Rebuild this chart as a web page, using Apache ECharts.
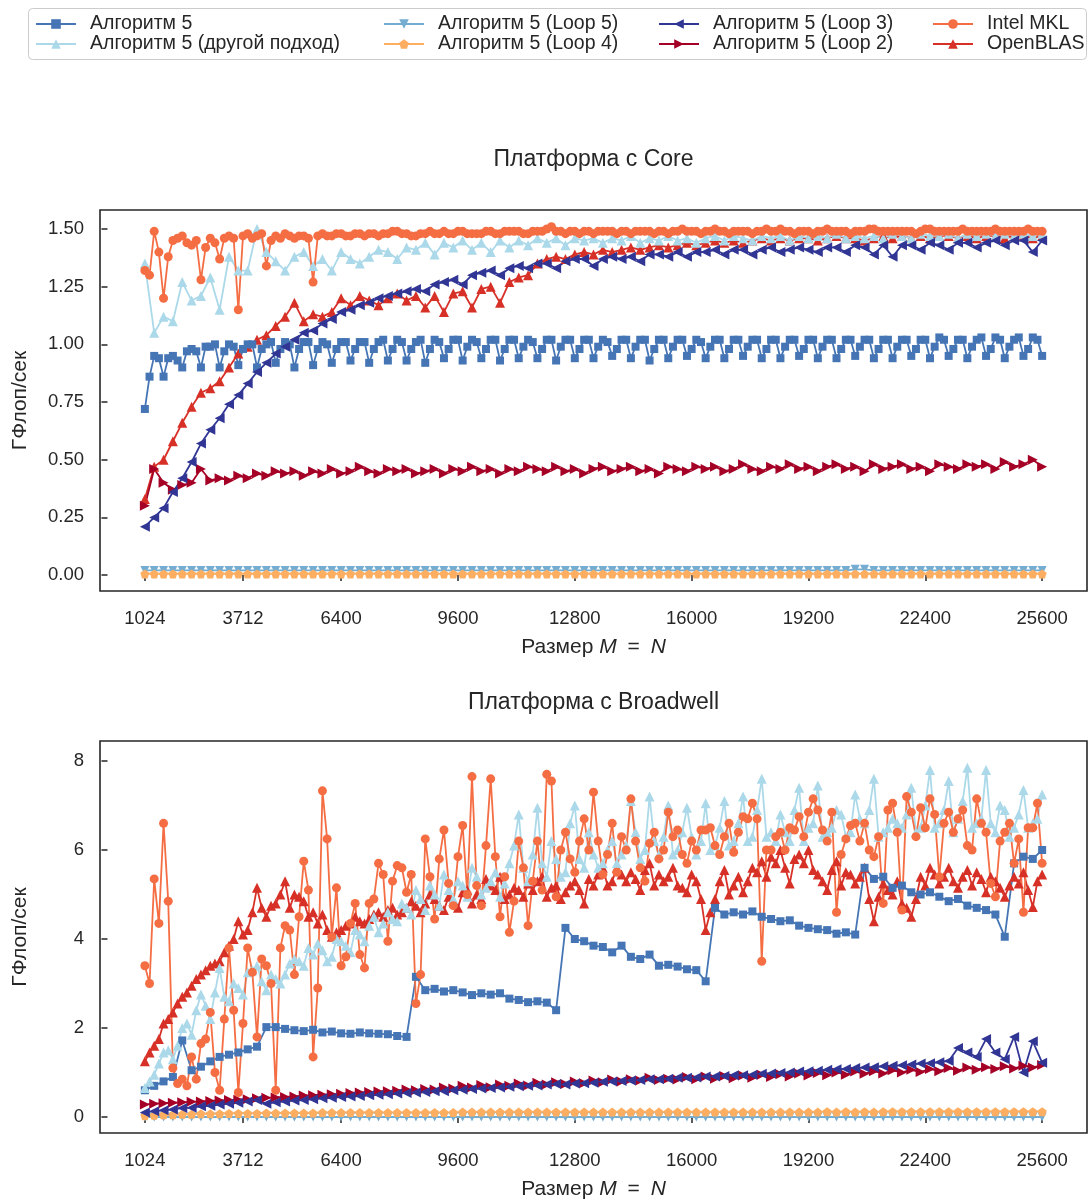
<!DOCTYPE html>
<html>
<head>
<meta charset="utf-8">
<script src="https://cdn.jsdelivr.net/npm/echarts@6/dist/echarts.min.js"></script>
<style>
html, body { margin: 0; padding: 0; background: #fff; }
#chart { width: 1091px; height: 1202px; }
</style>
</head>
<body>
<div id="chart"></div>
<script>
// размеры задачи M = N
const sizes = [];
for (let n = 1024; n <= 25600; n += 256) sizes.push(n);
const sizesFine = [];
for (let n = 1024; n <= 25600; n += 128) sizesFine.push(n);

const xTicks = [1024, 3712, 6400, 9600, 12800, 16000, 19200, 22400, 25600];
const coreTicks = [0, 0.25, 0.5, 0.75, 1.0, 1.25, 1.5];
const bdwTicks = [0, 2, 4, 6, 8];

// ---- Платформа с Core ----
const coreAlg5 = [ // шаг 128
  0.72,0.86,0.95,0.94, 0.86,0.94,0.95,0.93, 0.90,0.97,0.98,0.97, 0.90,0.99,0.99,1.00,
  0.90,0.97,1.00,0.99, 0.91,0.98,1.00,1.00, 0.90,0.98,1.00,1.01, 0.92,0.98,1.01,1.00,
  0.90,0.98,1.01,1.01, 0.91,0.98,1.01,1.00, 0.92,0.98,1.01,1.01, 0.93,0.98,1.01,1.01,
  0.92,0.98,1.01,1.02, 0.93,0.98,1.02,1.01, 0.93,0.98,1.01,1.02, 0.92,0.98,1.02,1.01,
  0.94,0.98,1.02,1.02, 0.93,0.99,1.02,1.01, 0.94,0.98,1.02,1.02, 0.93,0.98,1.02,1.02,
  0.94,0.99,1.02,1.01, 0.94,0.98,1.02,1.02, 0.93,0.99,1.02,1.02, 0.94,0.98,1.02,1.02,
  0.94,0.99,1.02,1.01, 0.95,0.98,1.02,1.02, 0.94,0.99,1.02,1.02, 0.93,0.98,1.02,1.02,
  0.94,0.99,1.02,1.02, 0.95,0.98,1.02,1.01, 0.94,0.99,1.02,1.02, 0.94,0.98,1.02,1.02,
  0.95,0.99,1.02,1.02, 0.94,0.98,1.02,1.02, 0.94,0.99,1.02,1.02, 0.95,0.98,1.02,1.02,
  0.94,0.99,1.02,1.02, 0.94,0.98,1.02,1.02, 0.95,0.99,1.02,1.02, 0.94,0.98,1.02,1.02,
  0.94,0.99,1.02,1.02, 0.95,0.98,1.02,1.02, 0.94,0.99,1.03,1.02, 0.95,0.98,1.02,1.02,
  0.94,0.99,1.02,1.03, 0.95,0.98,1.03,1.02, 0.94,0.99,1.02,1.03, 0.95,0.98,1.03,1.02,
  0.95
];
const coreOther = [
  1.35,1.05,1.12,1.10,1.27,1.19,1.21,1.29,1.15,1.38,
  1.32,1.32,1.50,1.40,1.36,1.32,1.38,1.40,1.34,1.37,
  1.32,1.40,1.37,1.35,1.38,1.41,1.40,1.37,1.42,1.41,
  1.44,1.39,1.44,1.42,1.45,1.41,1.44,1.40,1.45,1.42,
  1.45,1.43,1.46,1.44,1.46,1.43,1.46,1.45,1.46,1.44,
  1.46,1.45,1.47,1.44,1.46,1.45,1.47,1.45,1.46,1.44,
  1.46,1.47,1.45,1.47,1.46,1.45,1.47,1.46,1.47,1.45,
  1.47,1.46,1.47,1.46,1.48,1.46,1.47,1.46,1.47,1.46,
  1.48,1.47,1.46,1.48,1.47,1.47,1.48,1.46,1.48,1.47,
  1.48,1.47,1.48,1.47,1.48,1.47,1.48
];
const coreLoop5 = [
  0.02,0.02,0.02,0.02,0.02,0.02,0.02,0.02,0.02,0.02,
  0.02,0.02,0.02,0.02,0.02,0.02,0.02,0.02,0.02,0.02,
  0.02,0.02,0.02,0.02,0.02,0.02,0.02,0.02,0.02,0.02,
  0.02,0.02,0.02,0.02,0.02,0.02,0.02,0.02,0.02,0.02,
  0.02,0.02,0.02,0.02,0.02,0.02,0.02,0.02,0.02,0.02,
  0.02,0.02,0.02,0.02,0.02,0.02,0.02,0.02,0.02,0.02,
  0.02,0.02,0.02,0.02,0.02,0.02,0.02,0.02,0.02,0.02,
  0.02,0.02,0.02,0.02,0.02,0.02,0.025,0.025,0.02,0.02,
  0.02,0.02,0.02,0.02,0.02,0.02,0.02,0.02,0.02,0.02,
  0.02,0.02,0.02,0.02,0.02,0.02,0.02
];
const coreLoop4 = [
  0.005,0.005,0.005,0.005,0.005,0.005,0.005,0.005,0.005,0.005,
  0.005,0.005,0.005,0.005,0.005,0.005,0.005,0.005,0.005,0.005,
  0.005,0.005,0.005,0.005,0.005,0.005,0.005,0.005,0.005,0.005,
  0.005,0.005,0.005,0.005,0.005,0.005,0.005,0.005,0.005,0.005,
  0.005,0.005,0.005,0.005,0.005,0.005,0.005,0.005,0.005,0.005,
  0.005,0.005,0.005,0.005,0.005,0.005,0.005,0.005,0.005,0.005,
  0.005,0.005,0.005,0.005,0.005,0.005,0.005,0.005,0.005,0.005,
  0.005,0.005,0.005,0.005,0.005,0.005,0.005,0.005,0.005,0.005,
  0.005,0.005,0.005,0.005,0.005,0.005,0.005,0.005,0.005,0.005,
  0.005,0.005,0.005,0.005,0.005,0.005,0.005
];
const coreLoop3 = [
  0.21,0.25,0.29,0.36,0.42,0.49,0.57,0.63,0.68,0.74,
  0.78,0.83,0.88,0.92,0.96,0.99,1.02,1.05,1.06,1.09,
  1.11,1.14,1.15,1.17,1.18,1.20,1.21,1.22,1.23,1.24,
  1.23,1.26,1.27,1.28,1.26,1.30,1.31,1.32,1.30,1.33,
  1.34,1.33,1.35,1.35,1.33,1.36,1.37,1.37,1.34,1.37,
  1.38,1.37,1.38,1.36,1.39,1.39,1.38,1.40,1.38,1.40,
  1.40,1.41,1.39,1.41,1.41,1.39,1.41,1.42,1.40,1.41,
  1.42,1.41,1.40,1.42,1.42,1.40,1.43,1.42,1.39,1.43,
  1.38,1.43,1.43,1.41,1.44,1.43,1.41,1.44,1.44,1.42,
  1.44,1.45,1.43,1.45,1.45,1.40,1.45
];
const coreLoop2 = [
  0.30,0.46,0.40,0.37,0.39,0.40,0.46,0.41,0.42,0.41,
  0.43,0.42,0.44,0.43,0.45,0.44,0.45,0.43,0.45,0.44,
  0.46,0.44,0.45,0.47,0.45,0.44,0.46,0.45,0.46,0.44,
  0.45,0.46,0.44,0.46,0.45,0.47,0.45,0.46,0.44,0.46,
  0.45,0.47,0.46,0.45,0.47,0.45,0.46,0.44,0.46,0.47,
  0.45,0.46,0.47,0.45,0.46,0.44,0.47,0.46,0.45,0.47,
  0.46,0.47,0.45,0.46,0.48,0.46,0.45,0.47,0.46,0.48,
  0.46,0.47,0.45,0.47,0.48,0.46,0.47,0.45,0.48,0.46,
  0.47,0.48,0.46,0.47,0.45,0.48,0.47,0.46,0.48,0.47,
  0.48,0.46,0.49,0.47,0.48,0.50,0.47
];
const coreMkl = [ // шаг 128
  1.32,1.30,1.49,1.40,1.20,1.38,1.45,1.46,1.47,1.44,
  1.43,1.45,1.28,1.42,1.46,1.44,1.37,1.46,1.47,1.46,
  1.15,1.47,1.48,1.46,1.47,1.48,1.34,1.45,1.47,1.46,
  1.48,1.47,1.46,1.47,1.47,1.46,1.27,1.47,1.48,1.47,
  1.47,1.48,1.48,1.47,1.47,1.48,1.48,1.47,1.48,1.48,
  1.47,1.48,1.48,1.49,1.49,1.48,1.48,1.47,1.47,1.48,
  1.48,1.49,1.48,1.48,1.49,1.48,1.48,1.49,1.49,1.48,
  1.48,1.48,1.48,1.49,1.49,1.48,1.48,1.49,1.49,1.49,
  1.49,1.48,1.48,1.49,1.49,1.49,1.50,1.51,1.49,1.49,
  1.48,1.49,1.49,1.48,1.49,1.49,1.48,1.49,1.49,1.49,
  1.49,1.48,1.49,1.49,1.48,1.49,1.49,1.49,1.49,1.48,
  1.49,1.49,1.48,1.49,1.49,1.50,1.49,1.49,1.49,1.48,
  1.49,1.49,1.50,1.49,1.49,1.48,1.49,1.49,1.49,1.49,
  1.48,1.49,1.49,1.50,1.49,1.49,1.50,1.49,1.49,1.48,
  1.49,1.49,1.49,1.48,1.49,1.49,1.50,1.49,1.49,1.49,
  1.49,1.48,1.49,1.49,1.49,1.50,1.50,1.49,1.49,1.49,
  1.49,1.49,1.49,1.49,1.49,1.48,1.49,1.50,1.50,1.49,
  1.49,1.49,1.49,1.49,1.49,1.50,1.49,1.49,1.49,1.49,
  1.49,1.49,1.50,1.49,1.49,1.49,1.49,1.49,1.49,1.50,
  1.49,1.49,1.49
];
const coreBlas = [
  0.33,0.47,0.50,0.58,0.66,0.73,0.79,0.81,0.84,0.90,
  0.96,0.99,1.02,1.04,1.08,1.12,1.18,1.10,1.13,1.12,
  1.14,1.20,1.17,1.21,1.19,1.17,1.20,1.22,1.19,1.21,
  1.16,1.21,1.14,1.22,1.23,1.16,1.24,1.25,1.18,1.27,
  1.29,1.30,1.35,1.37,1.38,1.37,1.39,1.40,1.39,1.41,
  1.40,1.41,1.42,1.41,1.42,1.43,1.42,1.43,1.44,1.43,
  1.44,1.45,1.44,1.45,1.44,1.45,1.46,1.45,1.46,1.45,
  1.46,1.46,1.45,1.46,1.47,1.46,1.46,1.45,1.46,1.47,
  1.46,1.47,1.46,1.47,1.46,1.47,1.47,1.46,1.47,1.46,
  1.47,1.47,1.46,1.47,1.47,1.46,1.47
];

// ---- Платформа с Broadwell ----
const bdwAlg5 = [
  0.60,0.70,0.80,0.90,1.72,1.05,1.13,1.25,1.35,1.40,
  1.45,1.52,1.58,2.02,2.02,1.98,1.95,1.93,1.96,1.90,
  1.92,1.88,1.87,1.90,1.88,1.87,1.86,1.82,1.80,3.15,
  2.85,2.88,2.82,2.85,2.80,2.74,2.78,2.75,2.78,2.66,
  2.63,2.58,2.60,2.57,2.40,4.25,4.00,3.95,3.85,3.82,
  3.70,3.85,3.60,3.55,3.65,3.40,3.42,3.38,3.32,3.30,
  3.05,4.70,4.55,4.60,4.55,4.62,4.50,4.45,4.40,4.42,
  4.30,4.25,4.22,4.20,4.12,4.15,4.10,5.60,5.35,5.40,
  5.15,5.20,5.05,5.00,5.05,4.95,4.85,4.90,4.75,4.70,
  4.65,4.55,4.05,5.70,5.85,5.80,6.00
];
const bdwOther = [ // шаг 128
  0.65,0.80,0.95,1.20,1.45,1.50,1.30,1.60,2.00,2.10,
  1.85,2.40,2.75,2.50,2.20,2.80,3.35,2.70,2.60,3.00,
  2.90,2.75,3.25,3.30,3.40,3.05,2.85,3.20,3.10,3.00,
  3.20,3.45,3.55,3.50,3.40,3.80,3.65,3.90,3.75,3.50,
  3.60,4.00,3.95,3.85,3.70,4.20,4.10,3.95,4.30,4.50,
  4.15,4.35,4.60,4.45,4.40,4.80,4.70,4.55,5.10,4.90,
  4.65,5.20,5.00,4.75,5.45,5.10,4.90,5.30,5.20,4.95,
  5.60,5.40,5.00,5.15,5.30,5.50,4.95,5.25,5.70,6.10,
  6.80,5.60,5.30,5.90,6.95,5.70,5.40,6.20,5.80,5.40,
  5.50,6.60,7.00,5.80,5.60,6.40,5.90,5.60,5.70,6.00,
  6.20,5.70,5.90,6.10,7.10,6.40,5.80,6.00,7.20,6.20,
  5.90,6.30,7.00,5.90,6.00,6.40,6.95,6.30,5.90,6.20,
  7.05,6.00,6.10,6.50,7.10,6.10,6.20,6.60,7.20,6.20,
  6.30,6.90,7.60,6.30,6.40,6.20,6.80,6.40,6.20,6.90,
  7.40,6.20,6.50,6.60,7.45,6.30,6.40,6.50,6.90,6.80,
  6.30,6.40,7.25,6.70,6.60,6.90,7.60,6.30,6.40,6.50,
  6.70,6.60,6.50,6.80,7.40,6.40,6.50,7.00,7.80,6.50,
  6.60,6.90,7.55,6.40,6.70,7.10,7.85,6.50,6.60,6.70,
  7.80,6.60,6.40,7.00,6.90,6.30,6.50,6.80,7.35,6.50,
  6.60,6.70,7.25
];
const bdwLoop5 = [
  0.00,0.00,0.00,0.00,0.00,0.00,0.00,0.00,0.00,0.00,
  0.00,0.00,0.00,0.00,0.00,0.00,0.00,0.00,0.00,0.00,
  0.00,0.00,0.00,0.00,0.00,0.00,0.00,0.00,0.00,0.00,
  0.00,0.00,0.00,0.00,0.00,0.00,0.00,0.00,0.00,0.00,
  0.00,0.00,0.00,0.00,0.00,0.00,0.00,0.00,0.00,0.00,
  0.00,0.00,0.00,0.00,0.00,0.00,0.00,0.00,0.00,0.00,
  0.00,0.00,0.00,0.00,0.00,0.00,0.00,0.00,0.00,0.00,
  0.00,0.00,0.00,0.00,0.00,0.00,0.00,0.00,0.00,0.00,
  0.00,0.00,0.00,0.00,0.00,0.00,0.00,0.00,0.00,0.00,
  0.00,0.00,0.00,0.00,0.00,0.00,0.00
];
const bdwLoop4 = [
  0.03,0.04,0.05,0.05,0.06,0.06,0.07,0.07,0.07,0.08,
  0.08,0.08,0.08,0.09,0.09,0.09,0.09,0.09,0.09,0.10,
  0.10,0.10,0.10,0.10,0.10,0.10,0.10,0.10,0.10,0.10,
  0.10,0.10,0.10,0.10,0.11,0.11,0.11,0.11,0.11,0.11,
  0.11,0.11,0.11,0.11,0.11,0.11,0.11,0.11,0.11,0.11,
  0.11,0.11,0.11,0.11,0.11,0.11,0.11,0.11,0.11,0.11,
  0.11,0.11,0.11,0.11,0.11,0.11,0.11,0.11,0.11,0.11,
  0.11,0.11,0.11,0.12,0.11,0.12,0.11,0.12,0.11,0.12,
  0.12,0.12,0.12,0.12,0.12,0.12,0.12,0.12,0.12,0.12,
  0.12,0.12,0.12,0.12,0.12,0.12,0.12
];
const bdwLoop3 = [
  0.10,0.13,0.15,0.17,0.20,0.21,0.24,0.25,0.28,0.30,
  0.32,0.35,0.38,0.30,0.33,0.35,0.37,0.38,0.40,0.42,
  0.43,0.45,0.46,0.47,0.49,0.50,0.51,0.53,0.54,0.55,
  0.56,0.58,0.58,0.60,0.61,0.63,0.64,0.65,0.66,0.68,
  0.69,0.70,0.71,0.73,0.74,0.73,0.75,0.76,0.77,0.79,
  0.80,0.81,0.82,0.83,0.85,0.85,0.86,0.88,0.88,0.89,
  0.91,0.91,0.92,0.94,0.94,0.95,0.97,0.98,0.99,1.00,
  1.02,1.03,1.04,1.06,1.07,1.08,1.10,1.11,1.12,1.14,
  1.15,1.16,1.18,1.20,1.21,1.23,1.26,1.55,1.45,1.35,
  1.75,1.45,1.30,1.80,1.00,1.70,1.22
];
const bdwLoop2 = [
  0.28,0.30,0.31,0.32,0.33,0.34,0.35,0.36,0.37,0.38,
  0.39,0.40,0.42,0.43,0.44,0.45,0.46,0.48,0.49,0.50,
  0.51,0.52,0.54,0.55,0.56,0.57,0.58,0.59,0.62,0.60,
  0.63,0.62,0.66,0.64,0.70,0.66,0.72,0.67,0.73,0.70,
  0.75,0.71,0.77,0.73,0.78,0.74,0.80,0.76,0.82,0.78,
  0.84,0.80,0.85,0.82,0.88,0.83,0.86,0.84,0.90,0.85,
  0.91,0.86,0.92,0.87,0.93,0.88,0.95,0.90,0.96,0.91,
  0.98,0.93,0.99,0.94,1.00,0.95,1.02,0.97,1.03,0.98,
  1.05,1.00,1.06,1.01,1.08,1.03,1.10,1.04,1.11,1.06,
  1.12,1.08,1.14,1.09,1.15,1.11,1.17
];
const bdwMkl = [ // шаг 128
  3.40,3.00,5.35,4.35,6.60,4.85,1.10,0.75,0.85,0.70,
  1.35,0.85,1.65,1.75,2.35,1.00,0.60,2.20,3.80,2.40,
  0.55,2.10,3.80,3.25,1.80,3.55,3.40,3.00,0.60,3.80,
  4.30,4.20,3.20,4.50,5.75,5.10,1.35,2.90,7.33,6.25,
  4.05,5.15,3.40,3.60,4.35,4.80,3.65,3.35,4.80,4.90,
  5.70,5.45,3.95,5.30,5.65,5.60,5.05,5.45,2.55,3.20,
  6.25,5.40,4.45,5.80,6.45,5.25,4.75,5.85,6.55,5.00,
  7.65,5.20,4.75,6.10,7.60,5.85,4.50,5.40,4.15,4.85,
  6.20,5.60,4.30,5.30,6.20,5.10,7.70,7.55,4.95,6.00,
  6.40,5.80,5.50,6.20,6.70,6.00,7.30,6.20,5.45,5.90,
  6.60,5.50,6.30,6.00,7.15,6.20,5.60,5.30,6.15,6.40,
  5.80,6.00,6.85,6.30,6.45,5.90,5.70,6.20,6.00,6.45,
  6.45,6.50,6.10,5.90,6.30,6.60,5.95,6.40,6.75,6.70,
  7.05,6.70,3.50,6.00,6.00,6.30,6.40,6.00,6.50,6.45,
  6.75,6.30,6.85,7.15,6.90,6.45,6.20,6.85,4.60,5.90,
  6.25,6.55,6.60,6.20,6.60,6.00,5.85,6.30,4.80,6.90,
  7.05,6.40,4.65,7.20,6.85,6.30,6.95,6.50,7.15,6.80,
  5.40,6.60,6.85,6.40,6.70,6.90,6.10,6.00,7.15,6.60,
  6.40,5.25,4.95,6.20,6.40,6.60,5.70,6.25,4.60,6.50,
  6.50,7.05,5.70
];
const bdwBlas = [ // шаг 128
  1.25,1.45,1.60,1.75,2.10,2.20,2.35,2.55,2.70,2.80,
  2.95,3.10,3.20,3.30,3.40,3.45,3.50,3.70,3.85,4.00,
  4.40,4.10,4.20,4.60,5.15,4.70,4.50,4.75,4.80,5.00,
  5.30,4.70,5.00,4.95,4.85,4.50,4.60,4.35,4.55,4.20,
  4.05,4.15,4.20,4.30,4.35,4.50,4.40,4.35,4.45,4.55,
  4.60,4.50,4.65,4.70,4.55,4.60,4.70,4.85,4.75,4.60,
  4.80,5.00,4.90,4.75,4.65,4.95,4.85,4.70,5.05,5.10,
  4.80,5.00,4.90,5.35,5.20,5.10,5.40,4.90,5.00,5.15,
  5.10,4.95,5.25,5.10,5.30,5.40,4.95,5.15,5.20,4.90,
  5.05,5.20,5.30,5.10,4.80,5.35,5.20,5.45,5.60,5.20,
  5.30,5.60,5.45,5.30,5.50,5.35,5.10,5.55,5.70,5.20,
  5.45,5.30,5.40,5.60,5.20,5.15,5.05,5.45,5.30,4.90,
  4.20,4.60,4.90,5.30,5.55,5.00,5.20,5.40,5.05,5.30,
  5.60,5.50,5.75,5.40,5.85,5.70,6.00,5.60,5.25,5.80,
  5.90,5.70,6.00,5.55,5.45,5.30,5.10,5.55,5.75,5.20,
  5.50,5.45,5.25,5.40,5.60,4.90,4.40,4.95,5.25,5.10,
  5.00,5.30,4.80,4.70,4.50,4.90,5.40,5.20,5.60,5.45,
  5.25,5.40,5.60,5.30,5.15,5.40,5.55,5.20,5.50,5.35,
  5.05,5.40,5.30,5.15,4.95,5.20,5.40,5.25,5.50,5.10,
  4.72,5.30,5.45
];

const TEXT = '#262626';
const FONT = '"Liberation Sans", Arial, sans-serif';
const pentagon = 'path://M0,-1L0.951,-0.309L0.588,0.809L-0.588,0.809L-0.951,-0.309Z';

// стиль для каждой кривой
const styles = {
  'Алгоритм 5': { color: '#4575b4', symbol: 'rect', size: 8, rot: 0 },
  'Алгоритм 5 (другой подход)': { color: '#abd9e9', symbol: 'triangle', size: 10, rot: 0 },
  'Алгоритм 5 (Loop 5)': { color: '#74add1', symbol: 'triangle', size: 9, rot: 180 },
  'Алгоритм 5 (Loop 4)': { color: '#fdae61', symbol: pentagon, size: 9, rot: 0 },
  'Алгоритм 5 (Loop 3)': { color: '#313695', symbol: 'triangle', size: 10, rot: 90 },
  'Алгоритм 5 (Loop 2)': { color: '#a50026', symbol: 'triangle', size: 10, rot: -90 },
  'Intel MKL': { color: '#f46d43', symbol: 'circle', size: 9, rot: 0 },
  'OpenBLAS': { color: '#d73027', symbol: 'triangle', size: 10, rot: 0 }
};

function line(name, idx, xs, ys) {
  const s = styles[name];
  return {
    name: name,
    type: 'line',
    xAxisIndex: idx,
    yAxisIndex: idx,
    data: xs.map((x, i) => [x, ys[i]]),
    symbol: s.symbol,
    symbolSize: s.size,
    symbolRotate: s.rot,
    showSymbol: true,
    lineStyle: { color: s.color, width: 1.8 },
    itemStyle: { color: s.color },
    emphasis: { disabled: true }
  };
}

function xAxis(idx) {
  return {
    type: 'value', gridIndex: idx, min: -204.8, max: 26828.8,
    name: 'Размер {i|M} {e|=} {i|N}', nameLocation: 'middle', nameGap: 46,
    nameTextStyle: {
      fontSize: 21, color: TEXT, fontFamily: FONT,
      rich: {
        i: { fontStyle: 'italic', fontSize: 21, color: TEXT, fontFamily: FONT },
        e: { fontSize: 21, color: TEXT, fontFamily: FONT, padding: [0, 5, 0, 5] }
      }
    },
    axisLine: { show: false },
    axisTick: { show: true, customValues: xTicks, length: 6, lineStyle: { color: TEXT, width: 1.5 } },
    axisLabel: { customValues: xTicks, fontSize: 18.5, color: TEXT, fontFamily: FONT, margin: 18, formatter: v => String(v) },
    splitLine: { show: false }
  };
}

function yAxis(idx, min, max, ticks, digits) {
  return {
    type: 'value', gridIndex: idx, min: min, max: max,
    name: 'ГФлоп/сек', nameLocation: 'middle', nameGap: 69, nameRotate: 90,
    nameTextStyle: { fontSize: 21, color: TEXT, fontFamily: FONT },
    axisLine: { show: false },
    axisTick: { show: true, customValues: ticks, length: 6, lineStyle: { color: TEXT, width: 1.5 } },
    axisLabel: { customValues: ticks, fontSize: 18.5, color: TEXT, fontFamily: FONT, margin: 16, formatter: v => v.toFixed(digits) },
    splitLine: { show: false }
  };
}

const legendBase = {
  orient: 'vertical', top: 14, padding: 0, itemWidth: 40, itemHeight: 12, itemGap: 0,
  selectedMode: false,
  textStyle: { fontSize: 19.5, lineHeight: 14, color: TEXT, fontFamily: FONT, padding: [0, 0, 0, 9] }
};

const chart = echarts.init(document.getElementById('chart'));
chart.setOption({
  animation: false,
  backgroundColor: '#fff',
  legend: [
    Object.assign({ left: 35, data: ['Алгоритм 5', 'Алгоритм 5 (другой подход)'] }, legendBase),
    Object.assign({ left: 383, data: ['Алгоритм 5 (Loop 5)', 'Алгоритм 5 (Loop 4)'] }, legendBase),
    Object.assign({ left: 658, data: ['Алгоритм 5 (Loop 3)', 'Алгоритм 5 (Loop 2)'] }, legendBase),
    Object.assign({ left: 932, data: ['Intel MKL', 'OpenBLAS'] }, legendBase)
  ],
  grid: [
    { left: 100, top: 210, width: 987, height: 381, show: true, borderColor: TEXT, borderWidth: 1.6, backgroundColor: 'transparent' },
    { left: 100, top: 741, width: 987, height: 392, show: true, borderColor: TEXT, borderWidth: 1.6, backgroundColor: 'transparent' }
  ],
  xAxis: [xAxis(0), xAxis(1)],
  yAxis: [
    yAxis(0, -0.069, 1.5824, coreTicks, 2),
    yAxis(1, -0.36, 8.45, bdwTicks, 0)
  ],
  graphic: [
    { type: 'rect', shape: { x: 28.5, y: 8.5, width: 1058, height: 51, r: 4 }, style: { fill: 'none', stroke: '#cccccc', lineWidth: 1 } },
    { type: 'text', x: 593.5, y: 160, style: { text: 'Платформа с Core', font: '23px ' + FONT, fill: TEXT, align: 'center', verticalAlign: 'middle' } },
    { type: 'text', x: 593.5, y: 703, style: { text: 'Платформа с Broadwell', font: '23px ' + FONT, fill: TEXT, align: 'center', verticalAlign: 'middle' } }
  ],
  series: [
    line('OpenBLAS', 0, sizes, coreBlas),
    line('Алгоритм 5', 0, sizesFine, coreAlg5),
    line('Алгоритм 5 (другой подход)', 0, sizes, coreOther),
    line('Алгоритм 5 (Loop 5)', 0, sizes, coreLoop5),
    line('Алгоритм 5 (Loop 4)', 0, sizes, coreLoop4),
    line('Алгоритм 5 (Loop 2)', 0, sizes, coreLoop2),
    line('Алгоритм 5 (Loop 3)', 0, sizes, coreLoop3),
    line('Intel MKL', 0, sizesFine, coreMkl),

    line('OpenBLAS', 1, sizesFine, bdwBlas),
    line('Алгоритм 5', 1, sizes, bdwAlg5),
    line('Алгоритм 5 (другой подход)', 1, sizesFine, bdwOther),
    line('Алгоритм 5 (Loop 5)', 1, sizes, bdwLoop5),
    line('Алгоритм 5 (Loop 4)', 1, sizes, bdwLoop4),
    line('Алгоритм 5 (Loop 2)', 1, sizes, bdwLoop2),
    line('Алгоритм 5 (Loop 3)', 1, sizes, bdwLoop3),
    line('Intel MKL', 1, sizesFine, bdwMkl)
  ]
});
</script>
</body>
</html>
